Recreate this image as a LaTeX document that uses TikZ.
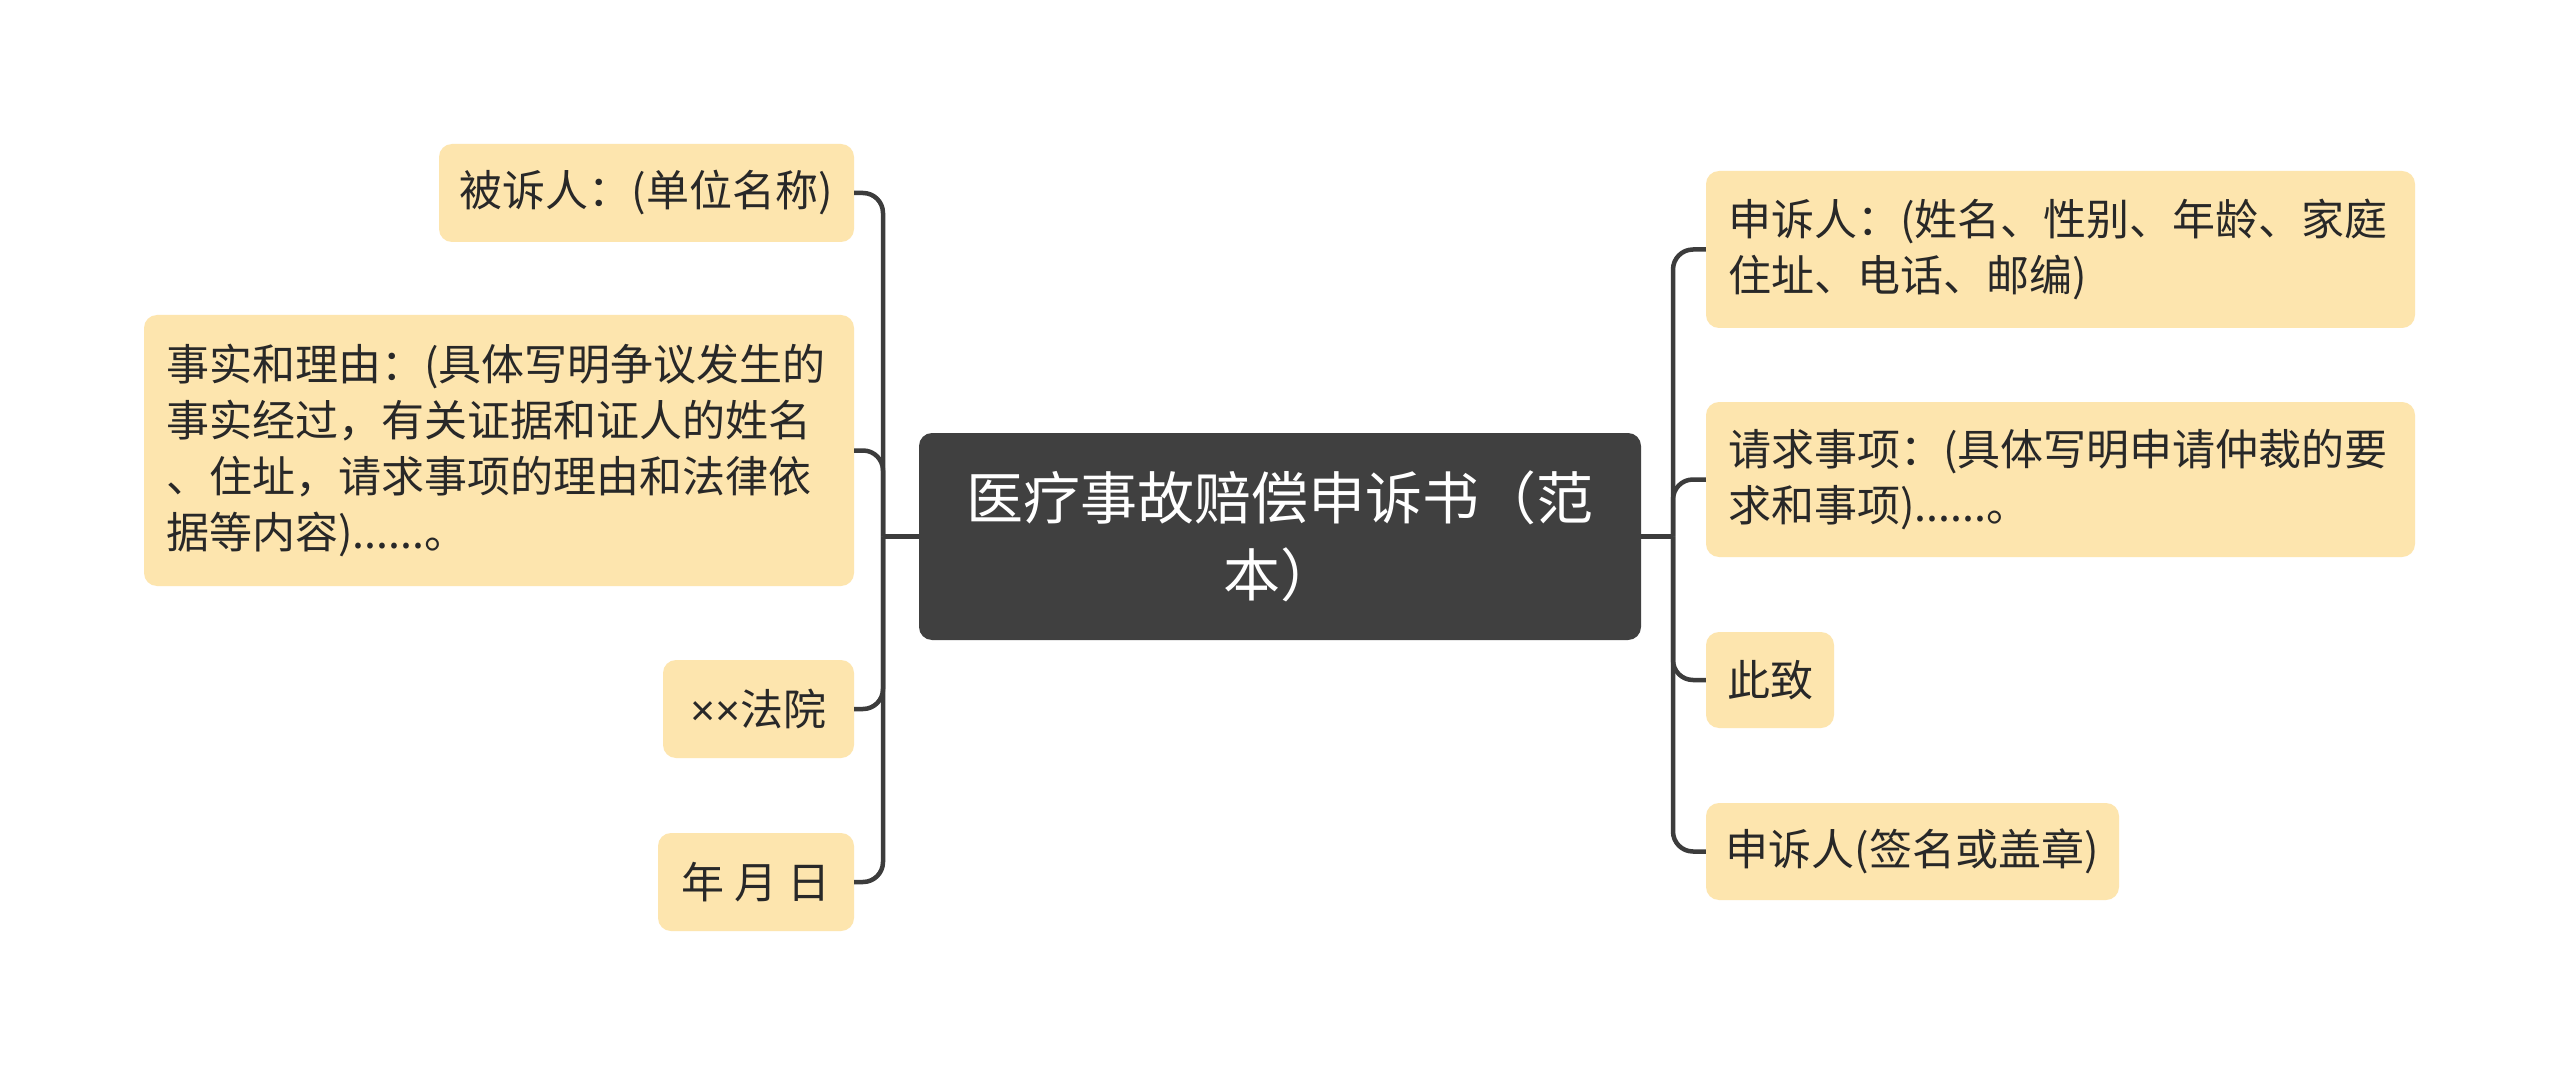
\documentclass[tikz,border=0pt]{standalone}
\usepackage{fontspec}
\setmainfont{Noto Sans CJK SC}
\newfontfamily\latinfont{Liberation Sans}
\definecolor{leaffill}{RGB}{253,229,174}
\definecolor{darkfill}{RGB}{64,64,64}
\definecolor{txt}{RGB}{40,40,40}
\definecolor{linec}{RGB}{60,60,60}
\begin{document}
\begin{tikzpicture}[x=1pt,y=-1pt,
  leaf/.style={fill=leaffill, rounded corners=13pt, text=txt,
    font=\fontsize{43}{56}\selectfont, inner sep=0pt},
  multi/.style={leaf, align=left, inner xsep=22pt},
  root/.style={fill=darkfill, rounded corners=13pt, text=white,
    font=\fontsize{57}{77}\selectfont, align=center, inner sep=0pt,
    minimum width=722pt, minimum height=207pt},
  conn/.style={draw=linec, line width=4.5pt, rounded corners=20pt}]
\path[use as bounding box, fill=white] (0,0) rectangle (2560,1075);

\node[root] (c) at (1280,536.5) {医疗事故赔偿申诉书（范\\本）};

% left side
\node[leaf, minimum width=415pt, minimum height=98pt] (l1) at (646.5,193) {被诉人：(单位名称)};
\node[multi, text width=666pt, minimum height=271pt] (l2) at (499,450.5)
  {事实和理由：(具体写明争议发生的\\事实经过，有关证据和证人的姓名\\、住址，请求事项的理由和法律依\\据等内容)......。};
\node[leaf, minimum width=191pt, minimum height=98pt] (l3) at (758.5,709) {{\latinfont ××}法院};
\node[leaf, minimum width=196pt, minimum height=98pt] (l4) at (756,882) {年 月 日};

% right side
\node[multi, text width=665pt, minimum height=157pt] (r1) at (2060.5,249.5)
  {申诉人：(姓名、性别、年龄、家庭\\住址、电话、邮编)};
\node[multi, text width=665pt, minimum height=155pt] (r2) at (2060.5,479.5)
  {请求事项：(具体写明申请仲裁的要\\求和事项)......。};
\node[leaf, minimum width=128pt, minimum height=96pt] (r3) at (1770,680) {此致};
\node[leaf, minimum width=413pt, minimum height=97pt] (r4) at (1912.5,851.5) {申诉人(签名或盖章)};

% connectors
\coordinate (jl) at (883,536.5);
\coordinate (jr) at (1673,536.5);
\draw[conn] (c.west) -- (jl);
\draw[conn] (c.east) -- (jr);
\draw[conn] (jl) |- (l1.east);
\draw[conn] (jl) |- (l2.east);
\draw[conn] (jl) |- (l3.east);
\draw[conn] (jl) |- (l4.east);
\draw[conn] (jr) |- (r1.west);
\draw[conn] (jr) |- (r2.west);
\draw[conn] (jr) |- (r3.west);
\draw[conn] (jr) |- (r4.west);
\end{tikzpicture}
\end{document}
